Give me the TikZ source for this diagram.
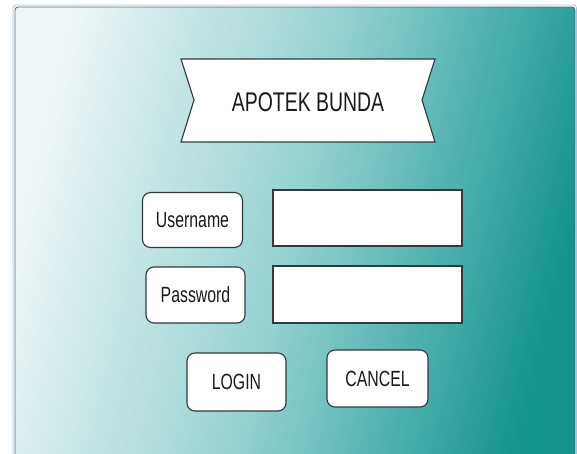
\documentclass[tikz,border=0pt]{standalone}
\usepackage{fontspec}
\setmainfont{Liberation Sans}
\definecolor{edge}{HTML}{2E3A3E}
\definecolor{ink}{HTML}{1A1A1A}
\definecolor{paleteal}{HTML}{EEF5F7}
\definecolor{midteal}{HTML}{92D1CF}
\definecolor{deepteal}{HTML}{12938E}
\definecolor{rimout}{HTML}{A6C3D6}
\definecolor{rimin}{HTML}{4E6E7C}
\newcommand{\narrow}[1]{\scalebox{0.72}[1]{#1}}
\begin{document}
\begin{tikzpicture}[x=1pt,y=-1pt,
  field/.style={draw=edge, fill=white, line width=1.1pt},
  button/.style={draw=edge, fill=white, line width=1.1pt, rounded corners=8pt,
    inner sep=0pt, text=ink, font=\fontsize{22}{26}\selectfont},
  caption/.style={text=ink, inner sep=0pt, font=\fontsize{27}{32}\selectfont}]
  \useasboundingbox (0,0) rectangle (577,453);
  % window frame with its gradient background
  \draw[rimout, line width=0.8pt, rounded corners=3pt] (13,5) rectangle (576.5,470);
  \shade[left color=paleteal, right color=deepteal, middle color=midteal,
    shading angle=76, rounded corners=3pt] (15,7) rectangle (575,470);
  \draw[rimin, line width=0.9pt, rounded corners=3pt] (15,7) rectangle (575,470);
  % title banner
  \draw[field] (181,59) -- (435,59) -- (422,100) -- (435,142) -- (181,142) -- (194,100) -- cycle;
  \node[caption] (title) at (308,102) {\narrow{APOTEK BUNDA}};
  % labels
  \node[button, minimum width=100pt, minimum height=55pt] (user) at (192.5,220) {\narrow{Username}};
  \node[button, minimum width=99pt, minimum height=56pt] (pass) at (195.5,295) {\narrow{Password}};
  % input fields
  \node[field, minimum width=189pt, minimum height=56pt, inner sep=0pt] (userfield) at (367.5,218) {};
  \node[field, minimum width=189pt, minimum height=57pt, inner sep=0pt] (passfield) at (367.5,294.5) {};
  % buttons
  \node[button, minimum width=99pt, minimum height=58pt] (login) at (236.5,382) {\narrow{LOGIN}};
  \node[button, minimum width=101pt, minimum height=57pt] (cancel) at (377.5,378.5) {\narrow{CANCEL}};
\end{tikzpicture}
\end{document}
